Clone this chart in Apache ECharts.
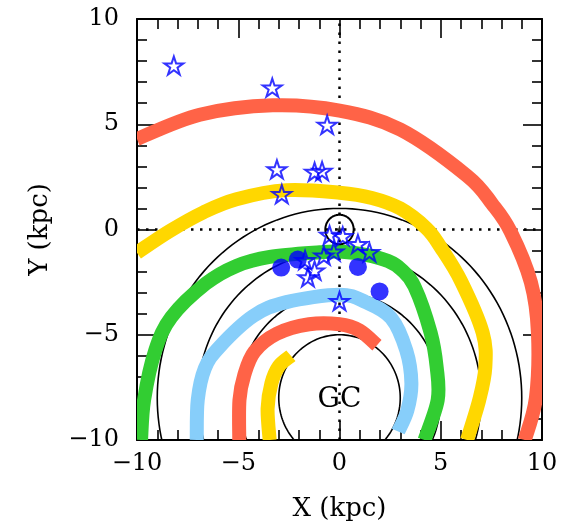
<!DOCTYPE html>
<html>
<head>
<meta charset="utf-8">
<script src="https://cdn.jsdelivr.net/npm/echarts@6/dist/echarts.min.js"></script>
<style>
html,body{margin:0;padding:0;background:#fff;}
#c{width:562px;height:529px;}
</style>
</head>
<body>
<div id="c"></div>
<script>
// ---- data (kpc) ----
var xTicks = [-10, -5, 0, 5, 10];
var yTicks = [-10, -5, 0, 5, 10];

// spiral arm traces: [X, Y]
var armOuterRed = [[-10,4.3],[-6.9,5.45],[-3.3,5.9],[0,5.65],[3,4.75],[6.3,2.55],[7.55,1.2],[8.45,-0.1],[9.45,-2.5],[9.8,-4.9],[9.7,-8.0],[9.15,-10]];
var armOuterYellow = [[-10,-1.1],[-8.38,-0.07],[-6.73,0.81],[-5.09,1.44],[-2.62,1.87],[0,1.75],[1.6,1.5],[3,1.0],[4.3,0.05],[5.0,-0.85],[6.0,-2.45],[7.07,-4.9],[7.2,-6.55],[6.9,-8.1],[6.3,-10]];
var armGreen = [[-9.8,-10],[-9.65,-8.1],[-9.1,-5.75],[-8.3,-4.16],[-6.6,-2.57],[-5.09,-1.73],[-3.44,-1.3],[-0.97,-1.08],[0,-1.05],[1.3,-1.2],[2.4,-1.5],[3.05,-1.9],[3.7,-2.7],[4.5,-4.9],[4.8,-6.55],[4.85,-8.1],[4.2,-10]];
var armBlue = [[-7.05,-10],[-7.0,-8.1],[-6.65,-6.6],[-5.95,-5.6],[-4.26,-4.11],[-2.62,-3.45],[0,-3.1],[1.3,-3.45],[2.55,-4.2],[3.3,-5.75],[3.55,-7.3],[3.35,-8.6],[2.9,-9.6]];
var armInnerRed = [[-4.95,-10],[-4.94,-8.1],[-4.7,-6.9],[-4.2,-5.8],[-3.1,-4.95],[-1.5,-4.5],[0,-4.5],[1.0,-4.8],[1.85,-5.5]];
var armInnerYellow = [[-3.45,-10],[-3.55,-8.5],[-3.36,-7.3],[-3.0,-6.5],[-2.4,-6.0]];

// open stars
var starsX = [-8.18,-3.32,-0.61,-3.09,-1.23,-0.86,-2.85,-0.49,0.16,0.91,1.48,-0.28,-0.77,-1.23,-1.56,-1.7,0];
var starsY = [7.79,6.74,4.97,2.86,2.74,2.78,1.68,-0.26,-0.32,-0.69,-1.08,-1.05,-1.24,-1.95,-2.27,-1.45,-3.4];
// filled circles
var dotsX = [-2.88,-2.06,0.91,1.98];
var dotsY = [-1.81,-1.43,-1.78,-2.94];

// galactocentric rings: [cx, cy, r]
var rings = [[0,-8,3],[0,-8,5],[0,-8,7],[0,-8,9]];
var sunRing = [[0,0,0.7]];
var sunPos = [[0,0]];
var gcLabel = [[0,-8.1,'GC']];
var refV = [[0,-10],[0,10]];
var refH = [[-10,0],[10,0]];

// ---- chart ----
var FONT = 'DejaVu Serif';
var STAR = 'path://M0,-1 L0.2245,-0.309 L0.951,-0.309 L0.3633,0.118 L0.5878,0.809 L0,0.382 L-0.5878,0.809 L-0.3633,0.118 L-0.951,-0.309 L-0.2245,-0.309 Z';
function fmt(v){ return v < 0 ? '\u2212' + Math.abs(v) : String(v); }
function zip(a,b){ var r=[]; for (var i=0;i<a.length;i++) r.push([a[i],b[i]]); return r; }

function axisCommon(show, pos){
  return {
    type:'value', min:-10, max:10, interval:5, position:pos,
    axisLine:{show:true, onZero:false, lineStyle:{color:'#000', width:2}},
    axisTick:{show:true, inside:true, length:19, lineStyle:{color:'#000', width:1.6}},
    minorTick:{show:true, splitNumber:5, length:10, lineStyle:{color:'#000', width:1.6}},
    splitLine:{show:false},
    axisLabel:{show:show, color:'#000', fontFamily:FONT, fontSize:24, formatter:fmt},
  };
}
var xb = axisCommon(true,'bottom'); xb.axisLabel.margin = 12;
xb.name = 'X (kpc)'; xb.nameLocation='middle'; xb.nameGap=56;
xb.nameTextStyle = {color:'#000', fontFamily:FONT, fontSize:26};
var xt = axisCommon(false,'top');
var yl = axisCommon(true,'left'); yl.axisLabel.margin = 18;
yl.name = 'Y (kpc)'; yl.nameLocation='middle'; yl.nameGap=84;
yl.nameTextStyle = {color:'#000', fontFamily:FONT, fontSize:26};
var yr = axisCommon(false,'right');

function ringSeries(data, lw, z){
  return {
    type:'custom', coordinateSystem:'cartesian2d', clip:true, z:z, silent:true,
    encode:{x:0, y:1},
    data:data,
    renderItem:function(params, api){
      var cx=api.value(0), cy=api.value(1), r=api.value(2);
      var pts=[];
      for (var a=0; a<=360; a+=2){
        var t=a*Math.PI/180;
        pts.push(api.coord([cx + r*Math.cos(t), cy + r*Math.sin(t)]));
      }
      return {type:'polyline', shape:{points:pts}, style:{fill:null, stroke:'#000', lineWidth:lw}};
    }
  };
}
// arm: smooth curve through the read points (Catmull-Rom drawn as cubic Beziers in pixel space)
function arm(data, color){
  return {
    type:'custom', coordinateSystem:'cartesian2d', clip:true, z:3, silent:true,
    encode:{x:0, y:1},
    data:data,
    renderItem:function(params, api){
      if (params.dataIndex !== 0) return null;
      var P = data.map(function(d){ return api.coord(d); });
      var n = P.length;
      var d = 'M' + P[0][0] + ' ' + P[0][1];
      for (var i=0; i<n-1; i++){
        var p0 = P[Math.max(i-1,0)], p1 = P[i], p2 = P[i+1], p3 = P[Math.min(i+2,n-1)];
        var c1 = [p1[0] + (p2[0]-p0[0])/6, p1[1] + (p2[1]-p0[1])/6];
        var c2 = [p2[0] - (p3[0]-p1[0])/6, p2[1] - (p3[1]-p1[1])/6];
        d += ' C' + c1[0] + ' ' + c1[1] + ' ' + c2[0] + ' ' + c2[1] + ' ' + p2[0] + ' ' + p2[1];
      }
      return {type:'path', shape:{pathData:d}, style:{fill:null, stroke:color, lineWidth:14, lineCap:'butt', lineJoin:'round'}};
    }
  };
}
function dotted(data){
  return {type:'line', data:data, symbol:'none', z:1, silent:true,
    lineStyle:{color:'#000', width:2.5, type:[2.5,6.5]}};
}

var chart = echarts.init(document.getElementById('c'), null, {renderer:'canvas'});
chart.setOption({
  animation:false,
  backgroundColor:'#fff',
  grid:{left:137, right:20, top:19, bottom:89, containLabel:false},
  xAxis:[xb, xt],
  yAxis:[yl, yr],
  series:[
    dotted(refV), dotted(refH),
    ringSeries(rings, 1.6, 2),
    arm(armOuterRed, '#FF6347'),
    arm(armOuterYellow, '#FFD700'),
    arm(armGreen, '#32CD32'),
    arm(armBlue, '#87CEFA'),
    arm(armInnerRed, '#FF6347'),
    arm(armInnerYellow, '#FFD700'),
    ringSeries(sunRing, 2, 4),
    {type:'scatter', data:sunPos, symbol:STAR, symbolSize:9, z:4, silent:true,
      itemStyle:{color:'#000'}},
    {type:'scatter', data:zip(starsX, starsY), symbol:STAR, symbolSize:19, symbolKeepAspect:true, z:5, silent:true,
      itemStyle:{color:'rgba(0,0,0,0)', borderColor:'#0000FF', borderWidth:2}},
    {type:'scatter', data:zip(dotsX, dotsY), symbol:'circle', symbolSize:18, z:6, silent:true,
      itemStyle:{color:'#0000FF'}},
    {type:'custom', coordinateSystem:'cartesian2d', z:7, silent:true, encode:{x:0, y:1}, data:gcLabel,
      renderItem:function(params, api){
        var p = api.coord([api.value(0), api.value(1)]);
        return {type:'text', style:{text:gcLabel[params.dataIndex][2], x:p[0], y:p[1], fill:'#000',
          fontFamily:FONT, fontSize:28, align:'center', verticalAlign:'middle'}};
      }}
  ]
});
</script>
</body>
</html>
